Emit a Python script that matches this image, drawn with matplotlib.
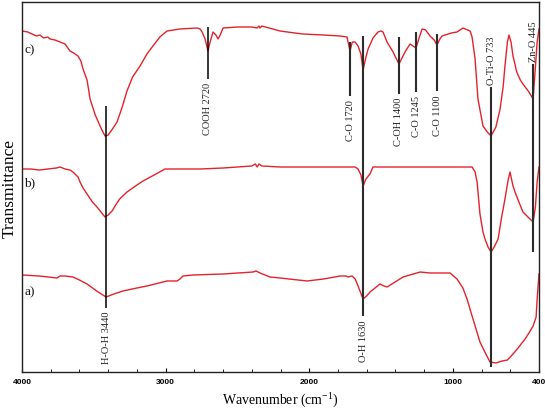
import matplotlib
matplotlib.use("Agg")
import matplotlib.pyplot as plt
from matplotlib.ticker import FixedLocator, MultipleLocator

# ---------------- data ----------------
# wavenumber (cm-1) and offset transmittance (arbitrary units)
wn_c = [4000, 3960, 3930, 3900, 3875, 3850, 3820, 3805, 3770, 3735, 3700, 3666, 3640, 3610, 3590,
        3575, 3547, 3526, 3490, 3450, 3422, 3400, 3370, 3338, 3300, 3269, 3230, 3178, 3130, 3088,
        3040, 2990, 2900, 2781, 2760, 2746, 2725, 2705, 2690, 2670, 2650, 2635, 2620, 2600, 2500,
        2400, 2363, 2350, 2343, 2330, 2203, 2100, 2043, 1900, 1785, 1737, 1716, 1700, 1681,
        1660, 1640, 1625, 1605, 1590, 1556, 1521, 1500, 1486, 1458, 1416, 1375, 1333, 1298, 1256,
        1235, 1214, 1190, 1159, 1130, 1110, 1090, 1075, 1010, 971, 929, 880, 866, 845, 825, 790,
        760, 734, 700, 671, 650, 637, 620, 609, 595, 581, 555, 530, 512, 470, 441, 425, 413, 400]
tr_c = [341, 340, 338, 336, 337, 334, 335, 333, 332, 330, 328, 321, 319, 316, 311,
        303, 292, 273, 257, 244, 236, 237, 243, 250, 266, 281, 295, 306, 318, 326,
        335, 341, 343, 344, 343, 340, 333, 321, 330, 340, 337, 333, 337, 344, 345,
        345, 344, 346, 344, 346, 341, 339, 338, 337, 336, 335, 321, 330, 330,
        326, 318, 302, 315, 323, 334, 340, 341, 340, 330, 320, 308, 320, 328, 324,
        334, 343, 342, 336, 332, 327, 333, 336, 339, 340, 344, 341, 335, 313, 273, 246,
        240, 236, 245, 263, 285, 306, 330, 337, 330, 316, 300, 292, 288, 280, 273, 305, 330, 343]

wn_b = [4000, 3940, 3880, 3820, 3760, 3735, 3700, 3666, 3645, 3610, 3596, 3575, 3547, 3510,
        3478, 3450, 3422, 3400, 3373, 3352, 3320, 3269, 3200, 3157, 3080, 3004, 2900, 2760, 2600,
        2500, 2400, 2375, 2363, 2350, 2330, 2200, 2064, 1900, 1750, 1681, 1660, 1640, 1625,
        1605, 1577, 1556, 1400, 1200, 1000, 866, 845, 831, 811, 790, 776, 755, 734, 712, 685, 660,
        637, 615, 602, 590, 581, 567, 540, 512, 470, 441, 425, 413, 400]
tr_b = [203, 203, 202, 203, 204, 205, 203, 202, 200, 195, 190, 184, 178, 170,
        165, 160, 155, 157, 161, 166, 173, 180, 187, 191, 197, 203, 203, 203, 204,
        205, 206, 208, 205, 208, 206, 205, 205, 205, 205, 205, 203, 197, 186,
        193, 198, 205, 205, 205, 205, 205, 200, 190, 158, 140, 133, 125, 120, 125, 133, 155,
        173, 192, 200, 192, 186, 180, 170, 160, 154, 150, 165, 190, 205]

wn_a = [4000, 3880, 3756, 3735, 3700, 3645, 3600, 3547, 3480, 3415, 3360, 3297, 3200, 3130, 2990,
        2921, 2900, 2879, 2809, 2600, 2391, 2370, 2343, 2273, 2203, 2015, 1900, 1785, 1745,
        1730, 1702, 1680, 1660, 1625, 1600, 1577, 1507, 1480, 1458, 1402, 1347, 1228, 1159, 1019,
        971, 930, 901, 866, 811, 770, 741, 700, 657, 620, 581, 540, 497, 470, 441, 420, 413, 400]
tr_a = [97, 96, 94, 96, 96, 95, 92, 88, 81, 75, 78, 81, 84, 86, 91,
        91, 93, 96, 97, 98, 100, 101, 99, 95, 94, 91, 93, 96, 96,
        95, 96, 93, 86, 73, 76, 80, 88, 86, 85, 90, 95, 100, 99, 99,
        93, 84, 73, 56, 30, 18, 10, 9, 11, 12, 18, 25, 33, 39, 46, 55, 73, 98]

# band annotations: drawn position, label, line extent, label side
band_pos = [3415, 2705, 1716, 1625, 1375, 1256, 1110, 734, 441]
band_text = ["H-O-H 3440", "COOH 2720", "C-O 1720", "O-H 1630", "C-OH 1400",
             "C-O 1245", "C-O 1100", "O-Ti-O 733", "Zn-O 445"]
band_top = [266, 345, 330, 336, 335, 340, 338, 285, 308]
band_bot = [64, 293, 276, 56, 278, 280, 281, 5, 120]
band_label_above = [False, False, False, False, False, False, False, True, True]

curve_names = ["a)", "b)", "c)"]
curve_name_y = [81, 190, 323]

x_ticks = [4000, 3000, 2000, 1000, 400]

# ---------------- figure ----------------
serif = ["Liberation Serif", "DejaVu Serif"]
plt.rcParams["mathtext.fontset"] = "custom"
plt.rcParams["mathtext.rm"] = "Liberation Serif"

fig = plt.figure(figsize=(5.45, 4.10), dpi=100)
ax = fig.add_axes([22 / 545, 1 - 373 / 410, 517 / 545, 370 / 410])

red = "#e3222b"
for wn, tr in ((wn_a, tr_a), (wn_b, tr_b), (wn_c, tr_c)):
    ax.plot(wn, tr, color=red, lw=1.0, solid_joinstyle="round")

for p, t, top, bot, above in zip(band_pos, band_text, band_top, band_bot, band_label_above):
    col = "#000000" if p > 2000 else "#2b2b2b"
    lw = 1.1 if p > 2000 else 1.5
    ax.plot([p, p], [bot, top], color=col, lw=lw, solid_capstyle="butt", zorder=3)
    if above:
        ax.text(p, top + 3, t, rotation=90, ha="center", va="bottom",
                fontsize=7.5, family=serif, color="#222222")
    else:
        ax.text(p, bot - 3, t, rotation=90, ha="center", va="top",
                fontsize=7.5, family=serif, color="#222222")

for name, y in zip(curve_names, curve_name_y):
    ax.text(3986, y, name, ha="left", va="center", fontsize=9.5, family=serif, color="#111111")

ax.set_xlim(4000, 400)
ax.set_ylim(0, 370)
ax.xaxis.set_major_locator(FixedLocator(x_ticks))
ax.xaxis.set_minor_locator(MultipleLocator(200))
ax.set_xticklabels([str(v) for v in x_ticks])
ax.tick_params(axis="x", which="major", direction="in", length=3, width=0.8, pad=4,
               labelsize=6, top=False)
ax.tick_params(axis="x", which="minor", direction="in", length=2, width=0.6, top=False)
for lbl in ax.get_xticklabels():
    lbl.set_fontweight("bold")
    lbl.set_family(["Liberation Sans", "DejaVu Sans"])
ax.set_yticks([])
for s in ax.spines.values():
    s.set_linewidth(1.0)
    s.set_color("#222222")

ax.set_xlabel(r"Wavenumber (cm$^{\mathregular{-1}}$)", family=serif, fontsize=10, labelpad=3)
ax.set_ylabel("Transmittance", family=serif, fontsize=12.5, labelpad=3)

fig.savefig("out.png", dpi=100)
